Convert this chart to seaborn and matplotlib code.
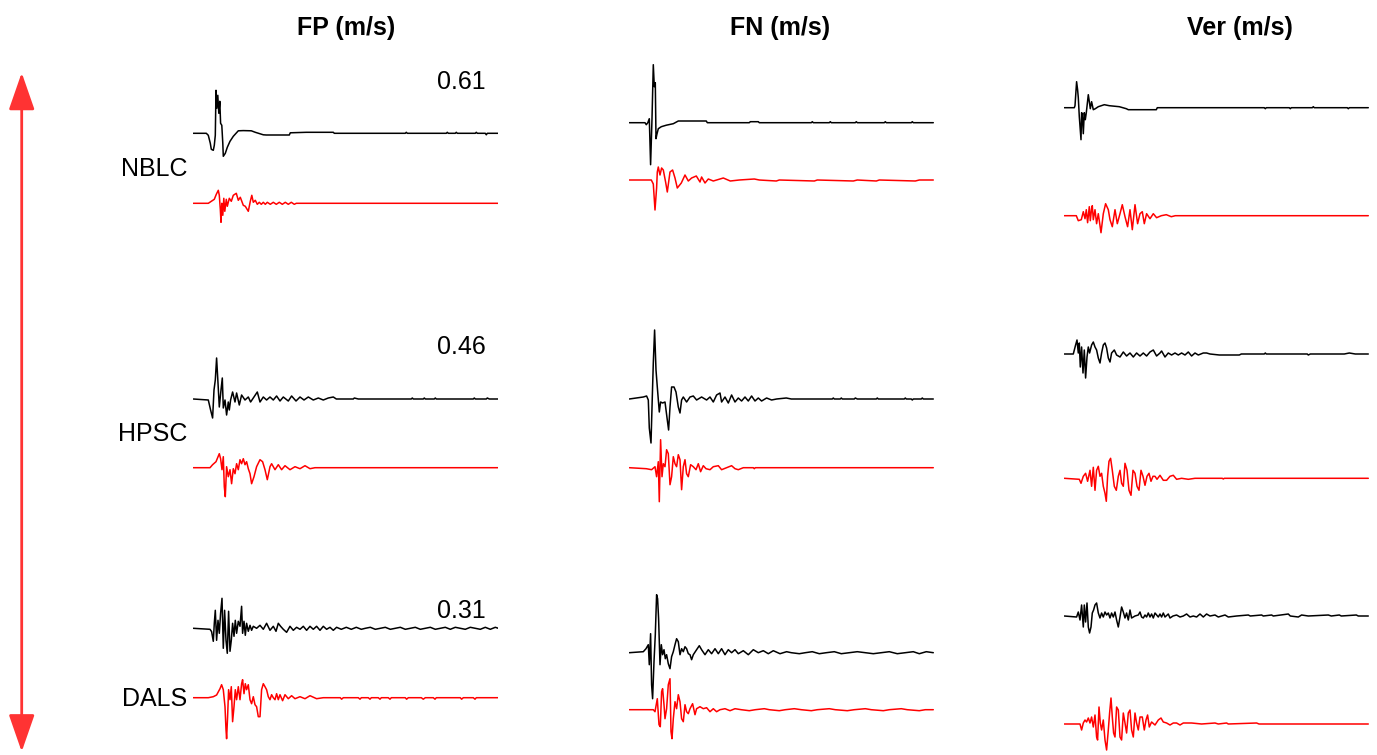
import matplotlib
matplotlib.use("Agg")
import matplotlib.pyplot as plt
import pandas as pd
import seaborn as sns

# ---------------- data ----------------
COMPONENTS = ["FP (m/s)", "FN (m/s)", "Ver (m/s)"]
STATIONS = ["NBLC", "HPSC", "DALS"]
PEAKS = ["0.61", "0.46", "0.31"]

# each trace: (time sample, velocity in plot units), observed (black) / synthetic (red)
NBLC_FP_OBS = [(0,0),(13,0),(15,-2),(17,-10),(18,-16),(20,-17),(21,-12),(22,-2),(22.7,43),(23.5,25),(24.5,38),(25.5,20),(26.5,32),(27.3,10),(28.5,8),(29.5,-10),(30,-23),(32,-20),(34,-14),(36.7,-8),(40,-3),(45,2.5),(50,2.7),(58,2.5),(62,1),(70,-1.5),(73,-1.7),(96,-1.7),(97,0.5),(113,1),(140,1),(141,0),(212,0),(213,1),(214,0),(253,0),(254,1),(255,0),(262,0),(263,1),(264,0),(282,0),(283,1),(284,0),(292,0),(293,-1.5),(294,0),(305,0)]
NBLC_FP_SYN = [(0,0),(15,0),(18,2),(21,4),(23,9),(25,13),(26,8),(27,-6),(27.7,-19),(28.5,0),(29.5,-12),(30.5,5),(31.5,-8),(33,4),(34,-3),(36,5),(38,2),(40,8),(43,10),(45,3),(47,6),(50,-2),(52,-3),(55,-8),(57,2),(58.5,8),(60,1),(62,3),(64,-1),(66,1),(68,-1),(70,1),(72,-1),(74,1),(77,-1),(80,1),(83,-1),(86,1),(89,-1),(92,1),(95,-1),(98,1),(101,-1),(103,0),(305,0)]
NBLC_FN_OBS = [(0,0),(15.7,0),(17,-2),(18.5,0),(20,4),(21.3,-42),(22.7,4),(24,58),(25,36),(26,40),(26.7,-16),(27.5,-12),(29,-6),(32,-4),(37,-2.5),(44,-1),(49,1.7),(77,1.7),(78,0),(120,0),(121,1),(129,1),(130,0),(182,0),(183,1),(184,0),(200,0),(201,1),(202,0),(226,0),(227,1),(228,0),(255,0),(256,1),(257,0),(282,0),(283,1),(284,0),(304,0)]
NBLC_FN_SYN = [(0,0),(22,0),(24,-4),(25.7,-30),(27.3,-8),(28,8),(29,13),(30.7,5),(32.3,12),(34,10),(36.3,-2),(38,-12),(40.7,8),(43.3,10),(45.7,2),(48,-8),(52,-3),(55.7,5),(59,-1),(62.3,2),(67,4),(70.7,-2),(72.3,3),(75.7,-3),(79,1),(84,-1),(94,2),(101,-1),(110,0),(125,1),(130,0),(147,-1),(150,0),(185,-1),(188,0),(224,-1),(228,0),(247,-1),(250,0),(286,-1),(290,0),(304,0)]
NBLC_VER_OBS = [(0,0),(10,0),(10.7,2),(12.3,26),(13.3,18),(14,10),(15,-9),(16.7,-32),(17.3,-5),(18,-6),(19,-26),(20,-5),(21,-12),(22,-5),(24,13),(25.3,4),(26,-1),(27.3,6),(29,-2),(31,-1),(34,1),(40,3),(45,2),(55,1),(62,-1),(64,-2),(92,-2),(93,0),(200,0),(201,-1),(202,0),(225,0),(226,-1),(227,0),(248,0),(249,1),(250,0),(283,0),(284,-1),(285,0),(304,0)]
NBLC_VER_SYN = [(0,0),(12,0),(14,-5),(17,-4),(19,4),(20.7,-3),(22,6),(23.3,-7),(25,9),(26,-5),(27.3,7),(28,10),(29,-4),(30.7,6),(32.3,-8),(34,2),(36.7,-17),(39,2),(41.3,12),(44,6),(45.7,-4),(48,-11),(50.7,6),(53,-8),(55.7,2),(58,11),(60.7,-1),(63.3,-11),(65.7,6),(68,-14),(70.7,11),(73.3,-8),(75.7,2),(78,4),(80,-8),(82.3,2),(85.7,-3),(89,2),(92.3,-2),(97,0),(102,1),(107,-1),(111,0),(304,0)]

HPSC_FP_OBS = [(0,0),(15,-1),(17.3,-11),(19.3,-19),(20.7,9),(22,19),(23.3,41),(24.7,16),(26,-8),(27.7,9),(29,21),(30,-9),(31.7,-1),(33.3,-16),(35,-3),(36,-11),(37.3,-1),(39.3,7),(41.7,-3),(43.3,6),(46,-6),(48.3,4),(51.7,-1),(55,2),(57.3,-3),(60,1),(64,7),(66.7,-3),(70,2),(73.3,-1),(76.7,2),(80,-1),(83.3,3),(86.7,-2),(90,2),(95,-2),(98.3,3),(102.7,-2),(106.7,2),(110.7,-1),(115,2),(120,-1),(125,1),(130,-1),(135,1),(140,2),(143,0),(160,0),(161,1),(165,0),(218,0),(219,1),(220,0),(230,0),(231,1),(232,0),(241,0),(242,1),(243,0),(280,0),(281,1),(282,0),(293,0),(294,1),(296,0),(305,0)]
HPSC_FP_SYN = [(0,0),(16.7,0),(19.3,3),(22.7,6),(26,14),(27.3,9),(28.7,-2),(30,11),(31,-19),(32,-29),(33.3,1),(35,-9),(36.7,-2),(38.3,-16),(40,-1),(41.7,-6),(43.3,4),(45,-2),(46.7,8),(48.3,4),(50,9),(51.7,3),(53.3,6),(55,-1),(56.7,-6),(58.3,-16),(60.7,-9),(63.3,1),(66.7,8),(69.3,6),(71.7,-2),(74,-12),(76.7,1),(78.3,4),(81.7,-2),(85,3),(88.3,-2),(91.7,2),(96.7,-2),(101.7,1),(106.7,-1),(111.7,2),(116.7,-1),(121.7,0),(125,0),(305,0)]
HPSC_FN_OBS = [(0,0),(14,2),(17.3,3),(19,-1),(20,-29),(21.7,-44),(23,2),(24,36),(25.3,69),(26.7,29),(28,12),(30,-13),(31.3,-3),(33.3,-4),(35.7,-3),(38,-21),(39.3,-31),(40.7,-8),(42.3,12),(44.7,12),(46.7,7),(49,-8),(50.7,-14),(52.3,-1),(54,2),(57.3,-3),(60.7,2),(64,3),(67.3,-1),(72.3,2),(77.3,-1),(80.7,2),(84,-3),(87.3,4),(90.7,6),(92.3,-3),(95.7,2),(99,-4),(102.3,4),(105.7,-3),(109,1),(112.3,-2),(115.7,2),(119,-2),(122.3,3),(125.7,-2),(129,1),(132.3,-2),(137.3,1),(142.3,-1),(147.3,0),(157,1),(162,0),(203,0),(204,1),(205,0),(211,0),(212,1),(213,0),(225,0),(226,1),(228,0),(247,0),(248,1),(249,0),(275,0),(276,1),(277,0),(282,0),(283,-1),(284,0),(292,0),(293,1),(294,0),(304,0)]
HPSC_FN_SYN = [(0,0),(17,-1),(22.3,-2),(25.7,1),(27.3,-9),(29,6),(30,-34),(31.3,28),(32.7,-9),(34,4),(35.7,1),(37.3,18),(39,14),(40.7,-17),(42.3,-9),(44,11),(45.7,4),(47.3,1),(49,13),(50.7,8),(52.3,-22),(54,1),(55.7,8),(57.3,-6),(59,-9),(61.3,3),(64,1),(66.7,-2),(69,4),(71.3,-4),(74,2),(76.7,-1),(80.7,-2),(84,1),(89,2),(92.3,-2),(97.3,0),(102.3,2),(105.7,-1),(109,-2),(114,0),(124,0),(125,-1),(126,0),(304,0)]
HPSC_VER_OBS = [(0,0),(9,0),(11.3,9),(12.7,14),(14,1),(15,11),(16,-13),(17.3,7),(18.7,-19),(20,4),(21.3,-24),(22.7,-3),(24,7),(25.3,1),(27.3,9),(29,12),(30.7,7),(32.3,4),(34,-4),(35.7,-9),(37.3,1),(39,9),(40.7,11),(42.3,6),(44,-4),(45.7,-8),(47.3,1),(50,4),(52.3,-1),(55.7,-3),(59,2),(62.3,-2),(65.7,1),(69,-3),(72.3,1),(75.7,-2),(79,1),(82.3,-2),(85.7,2),(89,4),(92.3,-2),(95.7,1),(97.3,3),(100.7,-3),(104,1),(107.3,-1),(110.7,1),(114,-1),(117.3,1),(120.7,-1),(124,2),(127.3,-2),(130.7,1),(134,-1),(139,1),(142.3,1),(145.7,0),(155,-1),(175,-1),(177,0),(200,0),(201,1),(202,0),(243,0),(244,-1),(246,0),(280,0),(285,1),(291,0),(304,0)]
HPSC_VER_SYN = [(0,0),(15,-1),(16.7,-5),(19,2),(21.3,5),(23.3,-3),(25.7,8),(27.3,-8),(29,11),(30.7,-12),(32.3,8),(34,12),(35.7,2),(37.3,5),(39,-8),(40.7,-15),(42,-23),(43.3,2),(44.7,17),(46.3,20),(48,8),(50,-8),(52,-12),(54,2),(55.7,8),(57.3,-5),(59,-8),(60.7,15),(62.7,8),(64.7,-12),(66.7,-17),(68.7,8),(70.7,5),(72.7,-8),(74.7,-12),(76.7,8),(78.7,2),(80.7,-7),(82.7,2),(84.7,5),(86.7,-3),(88.7,2),(90.7,2),(92.7,-1),(95.7,3),(99,-2),(102.3,-2),(105.7,2),(109,3),(112.3,-1),(117.3,0),(124,-1),(130.7,0),(158,0),(159,-0.7),(160,0),(304,0)]

DALS_FP_OBS = [(0,0),(16.7,-1),(18.3,-3.3),(20,-13),(21,5),(22,18),(23.3,-12),(24.7,8),(26,-5),(27.3,15),(28.7,30),(30,-20),(31.3,18),(32.7,-12),(34,-25),(35.3,17),(36.7,-23),(38,-12),(39.3,5),(40.7,-8),(42,8),(43.3,-5),(45,7),(46.7,2),(48.3,22),(49.3,-5),(50.7,7),(52,-7),(53.3,5),(55,-3),(56.7,3),(58.3,-2),(60,2),(63.3,0),(66.7,3),(70,-1),(73.3,5),(76.7,-2),(80,2),(82.7,-3),(85,5),(87.3,2),(90,-1),(93.3,-4),(96.7,2),(100,-2),(103.3,1),(106.7,-1),(110,2),(113.3,-2),(116.7,2),(120,-1),(123.3,2),(126.7,-2),(130,2),(133.3,-1),(136.7,1),(140,-2),(143.3,1),(148,-1),(153,1),(158,-1),(163,1),(168,-1),(172,0),(177,1),(182,-1),(187,0),(192,1),(197,-1),(202,0),(207,1),(212,-1),(217,0),(222,1),(227,-1),(232,0),(237,1),(242,-1),(247,0),(252,1),(257,-1),(262,1),(267,0),(272,-1),(277,1),(282,0),(287,-1),(292,1),(297,-1),(302,1),(305,0)]
DALS_FP_SYN = [(0,0),(15,0),(20,1),(23.3,2.7),(26.7,9),(28.3,13),(30,8),(31.7,-9),(32.7,-32),(33.3,-41),(34.3,-19),(35.3,8),(36.7,-2),(38,11),(39.3,-24),(40.7,-9),(42,8),(43.3,-2),(45,11),(46.7,-2),(48.3,14),(49.3,18),(50.7,4),(52,14),(53.3,8),(55,13),(56.7,-2),(58.3,-6),(60,1),(61.7,-7),(63.3,-9),(65,-19),(66.7,-19),(68.3,8),(70,14),(71.7,11),(73.3,8),(75,1),(76.7,-2),(78.3,3),(80,0),(81.7,-2),(83.3,4),(85,-2),(86.7,3),(89.3,-3),(91.7,3),(95,-1),(98.3,2),(101.7,-1),(106.7,1),(111.7,-1),(116.7,2),(123.3,-1),(130,0),(147,0),(148.3,-1.5),(150,0),(165,0),(166.7,-1.5),(168,0),(175,0),(176.7,-1.5),(178,0),(185,0),(186.7,-1.5),(188,0),(195,0),(196.7,-1.5),(198,0),(212,0),(213.3,-1.5),(215,0),(228,0),(230,-1.5),(232,0),(240,0),(241.7,-1.5),(243,0),(267,0),(268.3,-1.5),(270,0),(280,0),(281.7,-1.5),(283,0),(305,0)]
DALS_FN_OBS = [(0,0),(14,1),(16.7,4),(19,8),(20,-12),(21.3,19),(22.3,-32),(23.3,-46),(24.7,-9),(26,18),(27.3,58),(28.3,54),(29.3,34),(30.7,-12),(32,8),(33.3,-2),(34.7,3),(36,-6),(37.3,-2),(39,-11),(40.7,-16),(42.3,-4),(44,1),(45.7,8),(47.3,14),(49,11),(50.7,-2),(52.3,4),(54,1),(55.7,6),(57.3,4),(59,-1),(60.7,-2),(62.3,-7),(64,-2),(67.3,3),(70,7),(72.3,3),(75.7,-2),(79,3),(82.3,-1),(85.7,4),(89,-1),(92.3,4),(95.7,-2),(99,3),(102.3,0),(105.7,3),(109,-1),(114,2),(119,-2),(124,3),(129,0),(134,2),(139,-1),(144,2),(150.7,-1),(157.3,1),(162,0),(170,-1),(176,0),(183,1),(190,-1),(197,0),(205,1),(212,-1),(220,0),(228,1),(236,0),(244,-1),(252,0),(260,1),(268,-1),(276,0),(284,1),(290,-1),(297,1),(304,0)]
DALS_FN_SYN = [(0,0),(22,0),(24,0),(25.7,-2),(28,11),(29.7,-15),(31,-17),(32.3,18),(33.3,21),(34.7,5),(35.7,-9),(37.3,1),(39,25),(40.7,31),(41.7,-22),(42.7,-29),(44,-9),(45.7,8),(47.3,1),(49,15),(50.7,8),(52.3,-9),(54,-12),(55.7,5),(57.3,-2),(59,-4),(60.7,1),(63.3,6),(65.7,-5),(67.3,1),(70.7,3),(74,1),(77.3,2),(80.7,-2),(84,1),(87.3,-2),(90.7,0),(95.7,1),(100.7,-1),(105.7,1),(112,0),(120,-1),(126,0),(135,1),(140,0),(150,-1),(156,0),(165,1),(172,0),(182,-1),(188,0),(200,1),(206,0),(218,-1),(225,0),(236,1),(242,0),(254,-1),(260,0),(272,1),(278,0),(290,-1),(296,0),(304,0)]
DALS_VER_OBS = [(0,0),(12.3,-1),(14,4),(15.7,-4),(17.3,11),(19,-11),(20,11),(21.3,-6),(22.7,13),(24,-11),(25.3,-17),(26.7,-11),(28,3),(29.3,6),(30.7,11),(32.3,13),(34,3),(35.7,-2),(37.3,3),(39,-1),(40.7,4),(42.3,1),(44,3),(45.7,-2),(47.3,3),(49,-1),(50.7,4),(52.3,-4),(54,-11),(55.7,-1),(57.3,9),(59,4),(60.7,-2),(62.3,3),(64,-4),(65.7,6),(67.3,-2),(69,-1),(70.7,0),(74,1),(75.7,4),(77.3,-1),(79,-2),(80.7,1),(82.3,-1),(84,3),(85.7,-1),(87.3,2),(89,-2),(90.7,3),(94,-1),(95.7,2),(97.3,-1),(99,3),(100.7,-1),(104,2),(105.7,-2),(108.7,0),(112.3,1),(115.7,-1),(119,0),(122.3,2),(125.7,-1),(129,0),(132.3,-1),(135.7,2),(139,-1),(142.3,2),(145.7,0),(150.7,1),(154,-1),(160.7,1),(164,-1),(172.3,0),(184,1),(186,0),(197.3,1),(199,0),(207.3,1),(209,0),(224,2),(226,0),(234,-1),(237.3,1),(244,0),(264,1),(267,0),(275,1),(277,0),(292,1),(294,0),(304,0)]
DALS_VER_SYN = [(0,0),(15.7,0),(17.3,-6),(19,1),(20.7,4),(22.3,2),(24,6),(25.7,1),(27.3,7),(29,-3),(30.7,9),(32.3,-13),(33.3,-16),(34.7,17),(36,1),(37.3,-6),(39,4),(40.7,-16),(42.3,-26),(44,-6),(45.3,11),(46.7,26),(48,7),(49.3,-9),(50.7,-13),(52.3,17),(54,14),(55.7,-13),(57.3,-16),(59,11),(60.7,1),(62.3,-9),(64,11),(65.7,14),(67.3,-6),(69,-13),(70.7,11),(72.3,1),(74,-6),(75.7,7),(78,7),(80,-6),(81.7,4),(83.3,9),(85,-3),(87.3,2),(90.7,-1),(94,4),(96.7,6),(99,2),(102.3,1),(105.7,-1),(109,1),(112.3,1),(115.7,-1),(119,1),(122.3,1),(127.3,1),(137.3,0),(150.7,1),(154,0),(162.3,1),(164,0),(192.3,1),(194.7,0),(304,0)]

TRACES = {
    ("NBLC", 0): (NBLC_FP_OBS, NBLC_FP_SYN),
    ("NBLC", 1): (NBLC_FN_OBS, NBLC_FN_SYN),
    ("NBLC", 2): (NBLC_VER_OBS, NBLC_VER_SYN),
    ("HPSC", 0): (HPSC_FP_OBS, HPSC_FP_SYN),
    ("HPSC", 1): (HPSC_FN_OBS, HPSC_FN_SYN),
    ("HPSC", 2): (HPSC_VER_OBS, HPSC_VER_SYN),
    ("DALS", 0): (DALS_FP_OBS, DALS_FP_SYN),
    ("DALS", 1): (DALS_FN_OBS, DALS_FN_SYN),
    ("DALS", 2): (DALS_VER_OBS, DALS_VER_SYN),
}

# ---------------- layout ----------------
W, H = 1377, 755
sns.set_theme(style="white")
plt.rcParams['font.family'] = ['Liberation Sans', 'DejaVu Sans']
plt.rcParams['text.color'] = 'black'

fig = plt.figure(figsize=(W / 100, H / 100), dpi=100)
fig.patch.set_facecolor("white")

COL_X0 = [193.3, 629.3, 1064.3]
SPAN = 305
TITLE_X = [346, 780, 1240]
# baselines (pixel rows) for (observed, synthetic) per station per column
BASES = {
    ("NBLC", 0): (133.3, 203.3), ("NBLC", 1): (122.7, 180.0), ("NBLC", 2): (107.7, 215.7),
    ("HPSC", 0): (399.0, 467.7), ("HPSC", 1): (399.0, 467.7), ("HPSC", 2): (354.0, 478.3),
    ("DALS", 0): (628.3, 697.7), ("DALS", 1): (652.7, 709.7), ("DALS", 2): (616.0, 724.0),
}

for ci, comp in enumerate(COMPONENTS):
    ax = fig.add_axes([COL_X0[ci] / W, 0, SPAN / W, 1])
    for st in STATIONS:
        obs, syn = TRACES[(st, ci)]
        b_obs, b_syn = BASES[(st, ci)]
        for data, base, color in ((obs, b_obs, "black"), (syn, b_syn, "#ff0000")):
            df = pd.DataFrame(data, columns=["t", "v"])
            df["y"] = base - df["v"]
            sns.lineplot(data=df, x="t", y="y", ax=ax, color=color, lw=1.1,
                         sort=False, estimator=None)
    ax.set_xlim(0, SPAN)
    ax.set_ylim(H, 0)
    ax.axis("off")
    fig.text(TITLE_X[ci] / W, 1 - 28 / H, comp, ha="center", va="center",
             fontsize=18, fontweight="bold", color="black")

LABEL_Y = [168.5, 434, 698.5]
PEAK_Y = [82, 346.5, 611.5]
for si, st in enumerate(STATIONS):
    fig.text(187.5 / W, 1 - LABEL_Y[si] / H, st, ha="right", va="center",
             fontsize=18, color="black")
    fig.text(486 / W, 1 - PEAK_Y[si] / H, PEAKS[si], ha="right", va="center",
             fontsize=18, color="black")

# red double-headed arrow
fig.patches.append(matplotlib.patches.FancyArrowPatch(
    (21.7, H - 72.7), (21.7, H - 751.7), transform=None,
    arrowstyle="<|-|>,head_length=23,head_width=8", mutation_scale=1,
    color="#ff3333", lw=2.0, shrinkA=0, shrinkB=0))

fig.savefig("out.png", dpi=100)
